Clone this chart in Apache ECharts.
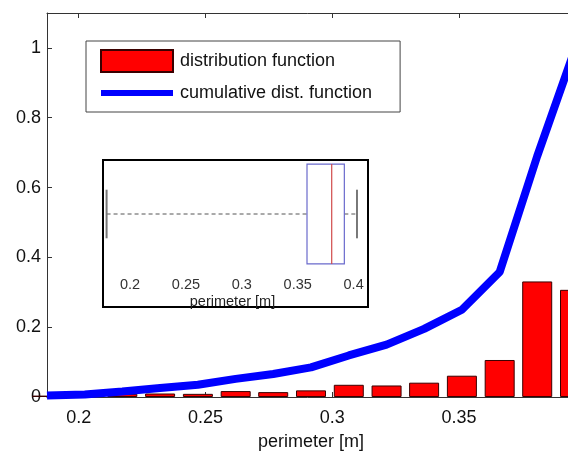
<!DOCTYPE html>
<html>
<head>
<meta charset="utf-8">
<title>perimeter distribution</title>
<script src="https://cdn.jsdelivr.net/npm/echarts@6.0.0/dist/echarts.min.js"></script>
<style>
  html, body { margin: 0; padding: 0; background: #fff; }
  #chart { width: 568px; height: 454px; }
</style>
</head>
<body>
<div id="chart"></div>
<script>
// histogram bins (centres) and values
var binCenters = [0.1875, 0.2024, 0.2172, 0.2321, 0.2470, 0.2619, 0.2767, 0.2916,
                  0.3065, 0.3214, 0.3362, 0.3511, 0.3660, 0.3808, 0.3957];
var distValues = [0.004, 0.003, 0.009, 0.010, 0.009, 0.017, 0.014, 0.019,
                  0.035, 0.033, 0.041, 0.061, 0.106, 0.331, 0.307];
var cumValues  = [0.004, 0.007, 0.016, 0.026, 0.035, 0.052, 0.066, 0.085,
                  0.119, 0.150, 0.195, 0.250, 0.358, 0.690, 0.997];
// boxplot: min, q1, median, q3, max
var boxStats = [0.179, 0.3583, 0.3804, 0.3917, 0.403];
var legendNames = ['distribution function', 'cumulative dist. function'];

var FONT = '"Liberation Sans", Arial, sans-serif';
var AXIS = '#333';

var distData = binCenters.map(function (x, i) { return [x, distValues[i]]; });
var cumData = binCenters.map(function (x, i) { return [x, cumValues[i]]; });

var chart = echarts.init(document.getElementById('chart'));

function renderBox(params, api) {
    var cy = api.coord([api.value(1), api.value(0)])[1];
    var band = api.size([0, 1])[1];
    var px = [1, 2, 3, 4, 5].map(function (d) {
        return api.coord([api.value(d), api.value(0)])[0];
    });
    var boxH = band * 0.925, capH = band * 0.45;
    var dash = { stroke: '#555', lineWidth: 1, lineDash: [4, 3] };
    var cap = { stroke: '#777', lineWidth: 2 };
    return {
        type: 'group',
        children: [
            { type: 'line', shape: { x1: px[0], y1: cy, x2: px[1], y2: cy }, style: dash },
            { type: 'line', shape: { x1: px[3], y1: cy, x2: px[4], y2: cy }, style: dash },
            { type: 'line', shape: { x1: px[0], y1: cy - capH / 2, x2: px[0], y2: cy + capH / 2 }, style: cap },
            { type: 'line', shape: { x1: px[4], y1: cy - capH / 2, x2: px[4], y2: cy + capH / 2 }, style: cap },
            { type: 'rect', shape: { x: px[1], y: cy - boxH / 2, width: px[3] - px[1], height: boxH },
              style: { fill: 'rgba(0,0,0,0)', stroke: '#6a6acc', lineWidth: 1.2 } },
            { type: 'line', shape: { x1: px[2], y1: cy - boxH / 2, x2: px[2], y2: cy + boxH / 2 },
              style: { stroke: '#d04a4a', lineWidth: 1.2 } }
        ]
    };
}

var option = {
    animation: false,
    textStyle: { fontFamily: FONT },
    legend: {
        data: [
            { name: legendNames[0], icon: 'rect' },
            { name: legendNames[1], icon: 'path://M0,0 M0,8 L72,8 L72,14 L0,14 Z M72,22',
              itemStyle: { color: '#0000ff', borderWidth: 0 } }
        ],
        orient: 'vertical',
        left: 86,
        top: 41,
        itemWidth: 72,
        itemHeight: 22,
        itemGap: 9,
        padding: [8, 28, 8, 14],
        backgroundColor: '#fff',
        borderColor: '#444',
        borderWidth: 1,
        selectedMode: false,
        textStyle: { fontSize: 18, color: '#111', fontFamily: FONT, padding: [0, 0, 0, 2] }
    },
    grid: [
        { left: 47, width: 528, top: 13, bottom: 57, outerBoundsMode: 'none', containLabel: false },
        { left: 103, right: 206, top: 160, bottom: 186, outerBoundsMode: 'none', containLabel: false }
    ],
    xAxis: [
        {
            type: 'value', gridIndex: 0, min: 0.1875, max: 0.3957,
            name: 'perimeter [m]', nameLocation: 'middle', nameGap: 36,
            nameTextStyle: { fontSize: 18, color: '#111' },
            axisLine: { lineStyle: { color: AXIS } },
            axisTick: { inside: true, length: 5, lineStyle: { color: AXIS } },
            axisLabel: { fontSize: 18, color: '#111', margin: 12, showMinLabel: false, showMaxLabel: false },
            splitLine: { show: false }
        },
        {
            type: 'value', gridIndex: 0, position: 'top', min: 0.1875, max: 0.3957,
            axisLine: { lineStyle: { color: AXIS } },
            axisTick: { inside: true, length: 5, lineStyle: { color: AXIS } },
            axisLabel: { show: false },
            splitLine: { show: false }
        },
        {
            type: 'value', gridIndex: 1, min: 0.1758, max: 0.4075,
            name: 'perimeter [m]', nameLocation: 'middle', nameGap: 26,
            nameTextStyle: { fontSize: 14.5, color: '#222' },
            axisLine: { lineStyle: { color: '#888' } },
            axisTick: { inside: true, length: 3, lineStyle: { color: '#888' } },
            axisLabel: { fontSize: 14.5, color: '#333', margin: 9, showMinLabel: false, showMaxLabel: false },
            splitLine: { show: false }
        }
    ],
    yAxis: [
        {
            type: 'value', gridIndex: 0, min: 0, max: 1.1,
            axisLine: { show: true, lineStyle: { color: AXIS } },
            axisTick: { show: true, inside: true, length: 5, lineStyle: { color: AXIS } },
            axisLabel: { fontSize: 18, color: '#111', margin: 6, showMaxLabel: false },
            splitLine: { show: false }
        },
        {
            type: 'category', gridIndex: 1, data: ['perimeter'],
            axisLine: { show: false }, axisTick: { show: false },
            axisLabel: { show: false }, splitLine: { show: false }
        }
    ],
    graphic: {
        elements: [{
            type: 'rect', z: -1,
            shape: { x: 103, y: 160, width: 265, height: 147 },
            style: { fill: '#fff', stroke: '#000', lineWidth: 2 }
        }]
    },
    series: [
        {
            name: legendNames[0], type: 'bar', xAxisIndex: 0, yAxisIndex: 0,
            data: distData, barWidth: 30,
            itemStyle: { color: '#ff0000', borderColor: '#3a0000', borderWidth: 1 }
        },
        {
            name: legendNames[1], type: 'line', xAxisIndex: 0, yAxisIndex: 0,
            data: cumData, showSymbol: false, symbol: 'none',
            lineStyle: { color: '#0000ff', width: 8 },
            itemStyle: { color: '#0000ff' }
        },
        {
            type: 'custom', xAxisIndex: 2, yAxisIndex: 1,
            data: [[0].concat(boxStats)],
            encode: { y: 0, x: [1, 2, 3, 4, 5] },
            renderItem: renderBox, z: 5
        }
    ]
};

chart.setOption(option);
</script>
</body>
</html>
